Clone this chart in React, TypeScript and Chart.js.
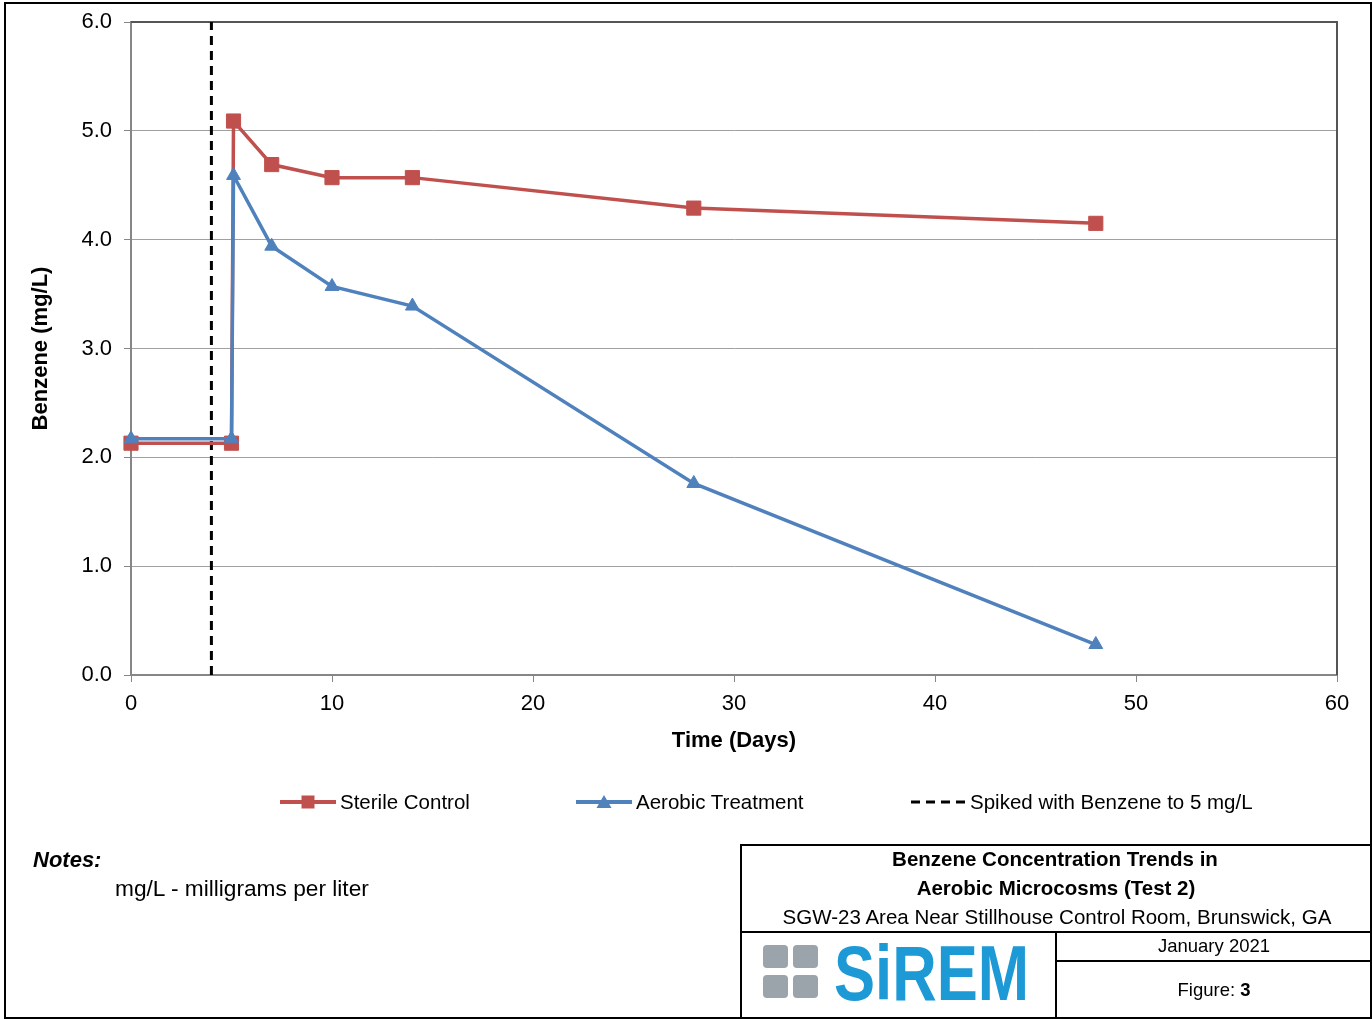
import React, { useEffect, useRef } from "react";
import { Chart, registerables } from "chart.js";
Chart.register(...registerables);

// ---- data ----
const days = [0, 5, 5.1, 7, 10, 14, 28, 48];
const sterileControl = [2.13, 2.13, 5.09, 4.69, 4.57, 4.57, 4.29, 4.15];
const aerobicTreatment = [2.17, 2.17, 4.59, 3.94, 3.57, 3.39, 1.76, 0.28];
const spikeDay = 4;
const xRange = [0, 60];
const yRange = [0, 6];
const xStep = 10;
const yStep = 1;

const seriesLabels = ["Sterile Control", "Aerobic Treatment", "Spiked with Benzene to 5 mg/L"];

const RED = "#C0504D";
const BLUE = "#4F81BD";
const FONT = "'Liberation Sans', Arial, sans-serif";

const W = 1372;
const H = 780;
const PLOT = { left: 131, top: 22, right: 1337, bottom: 675 };

const plotBorder = {
  id: "plotBorder",
  beforeDatasetsDraw(chart: any) {
    const { ctx, chartArea } = chart;
    ctx.save();
    ctx.strokeStyle = "#555555";
    ctx.lineWidth = 2;
    ctx.beginPath();
    ctx.moveTo(chartArea.left, chartArea.top);
    ctx.lineTo(chartArea.right, chartArea.top);
    ctx.lineTo(chartArea.right, chartArea.bottom);
    ctx.stroke();
    ctx.restore();
  },
};

function Txt(props: {
  x: number;
  y: number;
  text: React.ReactNode;
  size: number;
  bold?: boolean;
  italic?: boolean;
  align?: "left" | "center";
}) {
  const { x, y, text, size, bold, italic, align = "left" } = props;
  const style: React.CSSProperties = {
    position: "absolute",
    top: y - 15,
    height: 30,
    lineHeight: "30px",
    fontFamily: FONT,
    fontSize: size,
    fontWeight: bold ? "bold" : "normal",
    fontStyle: italic ? "italic" : "normal",
    color: "#000",
    whiteSpace: "nowrap",
  };
  if (align === "center") {
    style.left = x - 400;
    style.width = 800;
    style.textAlign = "center";
  } else {
    style.left = x;
  }
  return <div style={style}>{text}</div>;
}

function LegendMark({ x, y, kind }: { x: number; y: number; kind: "square" | "triangle" | "dash" }) {
  return (
    <svg
      style={{ position: "absolute", left: x, top: y - 10 }}
      width={56}
      height={20}
      viewBox="0 0 56 20"
    >
      {kind === "dash" ? (
        <line x1={1} y1={10} x2={56} y2={10} stroke="#000" strokeWidth={3} strokeDasharray="9 6" />
      ) : (
        <line x1={0} y1={10} x2={56} y2={10} stroke={kind === "square" ? RED : BLUE} strokeWidth={4} strokeLinecap="round" />
      )}
      {kind === "square" && <rect x={21.5} y={3.5} width={13} height={13} fill={RED} />}
      {kind === "triangle" && <polygon points="28,3 35.5,16 20.5,16" fill={BLUE} />}
    </svg>
  );
}

export default function App() {
  const ref = useRef<HTMLCanvasElement>(null);

  useEffect(() => {
    if (!ref.current) return;
    const tickFont = { family: FONT, size: 22 };
    const titleFont = { family: FONT, size: 22, weight: "bold" as const };
    const chart = new Chart(ref.current, {
      type: "scatter",
      data: {
        datasets: [
          {
            label: seriesLabels[1],
            data: days.map((d, i) => ({ x: d, y: aerobicTreatment[i] })),
            showLine: true,
            borderColor: BLUE,
            backgroundColor: BLUE,
            borderWidth: 3.5,
            pointStyle: "triangle",
            pointRadius: 8,
            pointBorderWidth: 1,
            pointBorderColor: BLUE,
            pointBackgroundColor: BLUE,
            clip: false as any,
          },
          {
            label: seriesLabels[0],
            data: days.map((d, i) => ({ x: d, y: sterileControl[i] })),
            showLine: true,
            borderColor: RED,
            backgroundColor: RED,
            borderWidth: 3.5,
            pointStyle: "rect",
            pointRadius: 10,
            pointBorderWidth: 1,
            pointBorderColor: RED,
            pointBackgroundColor: RED,
            clip: false as any,
          },
          {
            label: seriesLabels[2],
            data: [
              { x: spikeDay, y: yRange[0] },
              { x: spikeDay, y: yRange[1] },
            ],
            showLine: true,
            borderColor: "#000",
            backgroundColor: "#000",
            borderWidth: 3,
            borderDash: [9, 6],
            pointRadius: 0,
            clip: false as any,
          },
        ],
      },
      options: {
        responsive: false,
        animation: false,
        devicePixelRatio: 1,
        layout: { padding: { left: 0, top: PLOT.top, right: W - PLOT.right, bottom: 0 } },
        plugins: { legend: { display: false }, tooltip: { enabled: false } },
        scales: {
          x: {
            type: "linear",
            min: xRange[0],
            max: xRange[1],
            ticks: {
              stepSize: xStep,
              font: tickFont,
              color: "#000",
              padding: 9,
              maxRotation: 0,
            },
            grid: {
              drawOnChartArea: false,
              drawTicks: true,
              tickLength: 7,
              tickColor: "#868686",
              color: "#868686",
            },
            border: { display: true, color: "#868686", width: 2 },
            title: {
              display: true,
              text: "Time (Days)",
              font: titleFont,
              color: "#000",
              padding: { top: 0, bottom: 26 },
            },
            afterFit: (s: any) => {
              s.height = H - PLOT.bottom;
              s.paddingLeft = 0;
              s.paddingRight = 0;
              s.paddingTop = 0;
              s.paddingBottom = 0;
            },
          },
          y: {
            type: "linear",
            min: yRange[0],
            max: yRange[1],
            ticks: {
              stepSize: yStep,
              font: tickFont,
              color: "#000",
              padding: 12,
              callback: (v: any) => Number(v).toFixed(1),
            },
            grid: {
              drawOnChartArea: true,
              drawTicks: true,
              tickLength: 7,
              color: "#a0a0a0",
              tickColor: "#868686",
              lineWidth: 1,
            },
            border: { display: true, color: "#868686", width: 2 },
            title: {
              display: true,
              text: "Benzene (mg/L)",
              font: titleFont,
              color: "#000",
              padding: { top: 28, bottom: 0 },
            },
            afterFit: (s: any) => {
              s.width = PLOT.left;
              s.paddingLeft = 0;
              s.paddingRight = 0;
              s.paddingTop = 0;
              s.paddingBottom = 0;
            },
          },
        },
      },
      plugins: [plotBorder],
    });
    return () => chart.destroy();
  }, []);

  const line = (style: React.CSSProperties) => (
    <div style={{ position: "absolute", background: "#000", ...style }} />
  );

  return (
    <div
      style={{
        position: "absolute",
        left: 0,
        top: 0,
        width: W,
        height: 1019,
        background: "#fff",
        overflow: "hidden",
      }}
    >
      <canvas ref={ref} width={W} height={H} style={{ position: "absolute", left: 0, top: 0, width: W, height: H }} />

      {/* outer frame */}
      <div
        style={{
          position: "absolute",
          left: 4,
          top: 2,
          width: 1368,
          height: 1017,
          border: "2px solid #000",
          boxSizing: "border-box",
        }}
      />

      {/* legend */}
      <LegendMark x={280} y={802} kind="square" />
      <Txt x={340} y={802} text={seriesLabels[0]} size={20.5} />
      <LegendMark x={576} y={802} kind="triangle" />
      <Txt x={636} y={802} text={seriesLabels[1]} size={20.5} />
      <LegendMark x={910} y={802} kind="dash" />
      <Txt x={970} y={802} text={seriesLabels[2]} size={20.5} />

      {/* notes */}
      <Txt x={33} y={860} text="Notes:" size={22} bold italic />
      <Txt x={115} y={888} text="mg/L - milligrams per liter" size={22.7} />

      {/* title block */}
      {line({ left: 740, top: 844, width: 632, height: 2 })}
      {line({ left: 740, top: 844, width: 2, height: 175 })}
      {line({ left: 740, top: 931, width: 632, height: 2 })}
      {line({ left: 1055, top: 931, width: 2, height: 88 })}
      {line({ left: 1055, top: 960, width: 317, height: 2 })}

      <Txt x={1055} y={859} text="Benzene Concentration Trends in" size={20.5} bold align="center" />
      <Txt x={1056} y={888} text="Aerobic Microcosms (Test 2)" size={20.5} bold align="center" />
      <Txt x={1057} y={917} text="SGW-23 Area Near Stillhouse Control Room, Brunswick, GA" size={20.5} align="center" />
      <Txt x={1214} y={946} text="January 2021" size={18.5} align="center" />
      <Txt
        x={1214}
        y={990}
        text={
          <span>
            Figure: <b>3</b>
          </span>
        }
        size={18.5}
        align="center"
      />

      {/* logo */}
      {[
        [763, 945],
        [793, 945],
        [763, 975],
        [793, 975],
      ].map(([lx, ly], i) => (
        <div
          key={i}
          style={{
            position: "absolute",
            left: lx,
            top: ly,
            width: 25,
            height: 23,
            borderRadius: 4,
            background: "#9ba3ab",
          }}
        />
      ))}
      <div
        style={{
          position: "absolute",
          left: 834,
          top: 935,
          fontFamily: FONT,
          fontWeight: "bold",
          fontSize: 77,
          lineHeight: "77px",
          color: "#1d9ad6",
          whiteSpace: "nowrap",
          transform: "scaleX(0.8)",
          transformOrigin: "left top",
        }}
      >
        SiREM
      </div>
    </div>
  );
}
